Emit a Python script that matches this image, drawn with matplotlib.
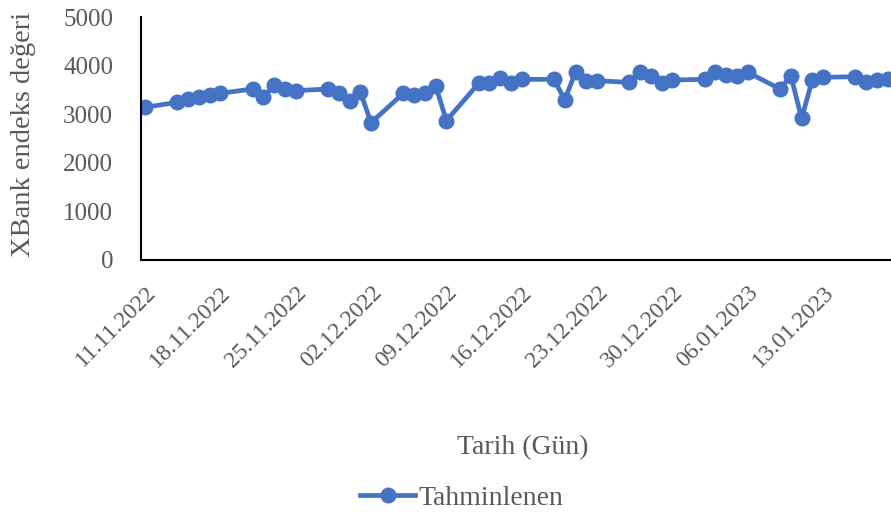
import numpy as np
import matplotlib.pyplot as plt
import matplotlib.dates as mdates

# trading days and predicted index values
dates = ["2022-11-11", "2022-11-14", "2022-11-15", "2022-11-16", "2022-11-17", "2022-11-18",
         "2022-11-21", "2022-11-22", "2022-11-23", "2022-11-24", "2022-11-25",
         "2022-11-28", "2022-11-29", "2022-11-30", "2022-12-01", "2022-12-02",
         "2022-12-05", "2022-12-06", "2022-12-07", "2022-12-08", "2022-12-09",
         "2022-12-12", "2022-12-13", "2022-12-14", "2022-12-15", "2022-12-16",
         "2022-12-19", "2022-12-20", "2022-12-21", "2022-12-22", "2022-12-23",
         "2022-12-26", "2022-12-27", "2022-12-28", "2022-12-29", "2022-12-30",
         "2023-01-02", "2023-01-03", "2023-01-04", "2023-01-05", "2023-01-06",
         "2023-01-09", "2023-01-10", "2023-01-11", "2023-01-12", "2023-01-13",
         "2023-01-16", "2023-01-17", "2023-01-18", "2023-01-19"]
tahmin = [3142, 3245, 3306, 3347, 3389, 3430,
          3519, 3347, 3594, 3519, 3484,
          3519, 3430, 3278, 3464, 2825,
          3430, 3395, 3430, 3587, 2866,
          3635, 3635, 3738, 3635, 3717,
          3717, 3292, 3875, 3689, 3689,
          3655, 3875, 3792, 3635, 3704,
          3717, 3875, 3806, 3792, 3861,
          3519, 3792, 2915, 3704, 3759,
          3772, 3669, 3704, 3730]
tick_dates = ["2022-11-11", "2022-11-18", "2022-11-25", "2022-12-02", "2022-12-09",
              "2022-12-16", "2022-12-23", "2022-12-30", "2023-01-06", "2023-01-13"]

x = np.array(dates, dtype="datetime64[D]")
ticks = np.array(tick_dates, dtype="datetime64[D]")

plt.rcParams['font.family'] = ['Liberation Serif', 'DejaVu Serif']
gray = '#595959'

fig = plt.figure(figsize=(8.91, 5.16), dpi=100)
ax = fig.add_axes([141/891, 256/516, 779/891, 243/516])

ax.plot(x, tahmin, color='#4472C4', lw=3.4, marker='o', ms=10.5, label='Tahminlenen')

x0 = mdates.date2num(np.datetime64("2022-11-11"))
ax.set_xlim(x0 - 0.37, x0 + 72)
ax.set_ylim(0, 5000)
ax.set_yticks(range(0, 5001, 1000))
ax.set_xticks(ticks)
ax.xaxis.set_major_formatter(mdates.DateFormatter('%d.%m.%Y'))
ax.tick_params(axis='both', length=0, labelsize=18, labelcolor=gray)
ax.tick_params(axis='x', labelsize=17, pad=16)
ax.tick_params(axis='y', pad=20)
for lbl in ax.get_xticklabels():
    lbl.set_rotation(45)
    lbl.set_ha('right')
    lbl.set_va('top')
    lbl.set_rotation_mode('anchor')

for s in ['top', 'right']:
    ax.spines[s].set_visible(False)
ax.spines['left'].set_linewidth(1.5)
ax.spines['bottom'].set_linewidth(1.5)

fig.text(0.026, 0.74, 'XBank endeks değeri', rotation=90, ha='center', va='center',
         fontsize=20.5, color=gray)
fig.text(0.587, 0.132, 'Tarih (Gün)', ha='center', va='center', fontsize=20, color=gray)
fig.legend(loc='center', bbox_to_anchor=(0.518, 0.035), frameon=False, fontsize=20,
           labelcolor=gray, handlelength=2.0, handletextpad=0.1)

fig.savefig('out.png', dpi=100)
